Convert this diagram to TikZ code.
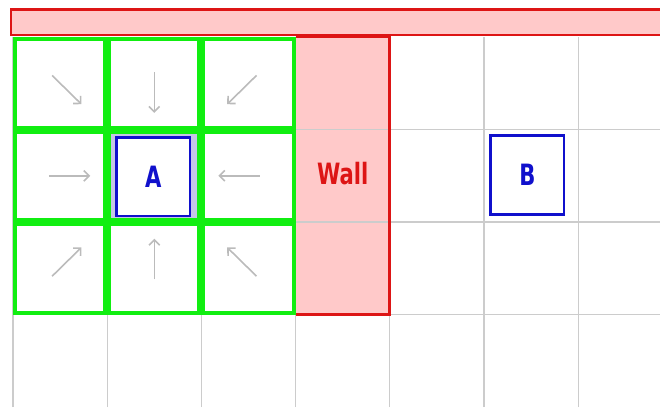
\documentclass[tikz,border=0pt]{standalone}
\usepackage{fontspec}
\newfontfamily\narrowfont{DejaVu Sans Condensed}[FakeStretch=0.8]
\usetikzlibrary{arrows.meta}
\definecolor{gridcol}{HTML}{CCCCCC}
\definecolor{nbrcol}{HTML}{11EE11}
\definecolor{wallcol}{HTML}{DD1515}
\definecolor{wallfill}{HTML}{FFC9C9}
\definecolor{agentcol}{HTML}{1010CC}
\definecolor{curcol}{HTML}{C6C6E6}
\definecolor{arrcol}{HTML}{BBBBBB}

\begin{document}
\begin{tikzpicture}[x=70.65pt,y=69.4pt,>={Straight Barb[length=4pt,width=8pt]},
    agent/.style={draw=agentcol,line width=2pt,fill=white,text=agentcol,
      minimum width=55pt,minimum height=59pt,inner sep=0pt,
      font=\narrowfont\bfseries\fontsize{22}{22}\selectfont},
    walltext/.style={text=wallcol,inner sep=0pt,
      font=\narrowfont\bfseries\fontsize{22}{22}\selectfont}]
  \useasboundingbox (-0.138,0) rectangle (6.868,4.4);
  % wall column and the cell of A
  \fill[wallfill] (3,1) rectangle (4,4);
  \fill[curcol] (1,2) rectangle (2,3);
  % grid
  \foreach \i in {0,...,7} \draw[gridcol,line width=0.9pt] (\i,0) -- (\i,4);
  \foreach \j in {1,2,3} \draw[gridcol,line width=0.9pt] (0,\j) -- (7,\j);
  % walls
  \draw[wallcol,line width=2pt] (3,4) -- (4,4) -- (4,1) -- (3,1);
  \draw[wallcol,fill=wallfill,line width=2pt] (-0.02,4.02) rectangle (7.2,4.3);
  % neighbourhood of A
  \foreach \i in {0,1,2} {
    \foreach \j in {1,2,3} {
      \draw[nbrcol,line width=3pt] ([shift={(1.5pt,1.5pt)}]\i,\j) rectangle ([shift={(-1.5pt,-1.5pt)}]\i+1,\j+1);
    }
  }
  % moves towards A
  \foreach \ox/\oy in {-1/1,0/1,1/1,-1/0,1/0,-1/-1,0/-1,1/-1} {
    \pgfmathsetmacro{\n}{sqrt(\ox*\ox+\oy*\oy)}
    \pgfmathsetmacro{\dx}{-\ox/\n}
    \pgfmathsetmacro{\dy}{-\oy/\n}
    \pgfmathsetmacro{\sx}{1.5+\ox-0.12*\dx}
    \pgfmathsetmacro{\sy}{2.5+\oy-0.12*\dy}
    \draw[->,arrcol,line width=1.2pt] (\sx,\sy) -- ++(0.44*\dx,0.44*\dy);
  }
  \node[agent] (A) at (1.49,2.49) {A};
  \node[agent] (B) at (5.46,2.51) {B};
  \node[walltext] (wall) at (3.5,2.52) {Wall};
\end{tikzpicture}
\end{document}
